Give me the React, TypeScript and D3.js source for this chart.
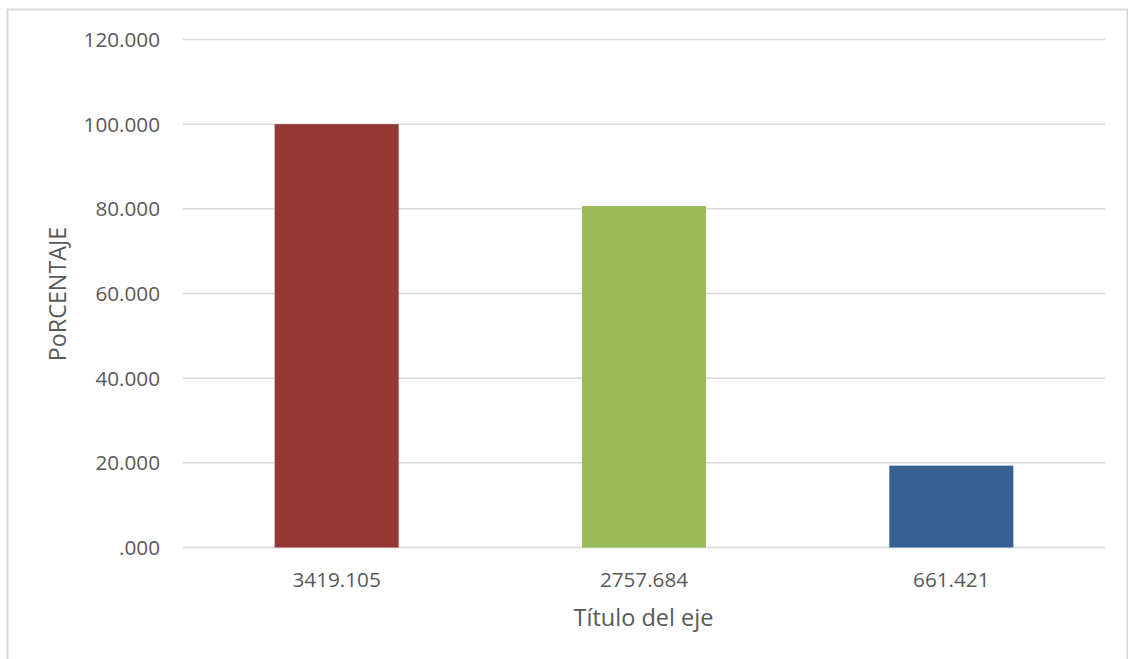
import React from "react";
import * as d3 from "d3";

const categories = ["3419.105", "2757.684", "661.421"];
const percentages = [100, 80.66, 19.34];
const barColors = ["#953735", "#9BBB59", "#366092"];
const yTicks = [0, 20, 40, 60, 80, 100, 120];

const W = 1128;
const H = 659;
const FONT = "'Open Sans', sans-serif";
const TEXT = "#595959";
const GRID = "#D9D9D9";

const fmt = (v: number) => v.toFixed(3).replace(/^0/, "");

export default function App() {
  const x = d3
    .scaleBand<string>()
    .domain(categories)
    .range([183, 1105])
    .paddingInner(0.5965)
    .paddingOuter(0.5965 / 2);
  const y = d3.scaleLinear().domain([0, 120]).range([547.5, 39.5]);

  return (
    <svg
      width={W}
      height={H}
      style={{ position: "absolute", left: 0, top: 0, background: "#fff" }}
    >
      <rect x={7.5} y={9.5} width={1120} height={660} fill="#fff" stroke={GRID} strokeWidth={2} />
      {yTicks.map((t) => (
        <g key={t}>
          <line x1={183} x2={1105} y1={y(t)} y2={y(t)} stroke={GRID} strokeWidth={1.5} />
          <text
            x={160}
            y={y(t)}
            dy="0.36em"
            textAnchor="end"
            fontFamily={FONT}
            fontSize={20.7}
            fill={TEXT}
          >
            {fmt(t)}
          </text>
        </g>
      ))}
      {categories.map((c, i) => (
        <g key={c}>
          <rect
            x={x(c)}
            y={y(percentages[i])}
            width={x.bandwidth()}
            height={y(0) - y(percentages[i])}
            fill={barColors[i]}
          />
          <text
            x={(x(c) as number) + x.bandwidth() / 2}
            y={580}
            dy="0.36em"
            textAnchor="middle"
            fontFamily={FONT}
            fontSize={20.7}
            fill={TEXT}
          >
            {c}
          </text>
        </g>
      ))}
      <text
        x={643.5}
        y={618}
        dy="0.36em"
        textAnchor="middle"
        fontFamily={FONT}
        fontSize={23.5}
        fill={TEXT}
      >
        Título del eje
      </text>
      <text
        transform={`translate(57.5, 294) rotate(-90)`}
        dy="0.36em"
        textAnchor="middle"
        fontFamily={FONT}
        fontSize={23.3}
        fill={TEXT}
      >
        PoRCENTAJE
      </text>
    </svg>
  );
}
